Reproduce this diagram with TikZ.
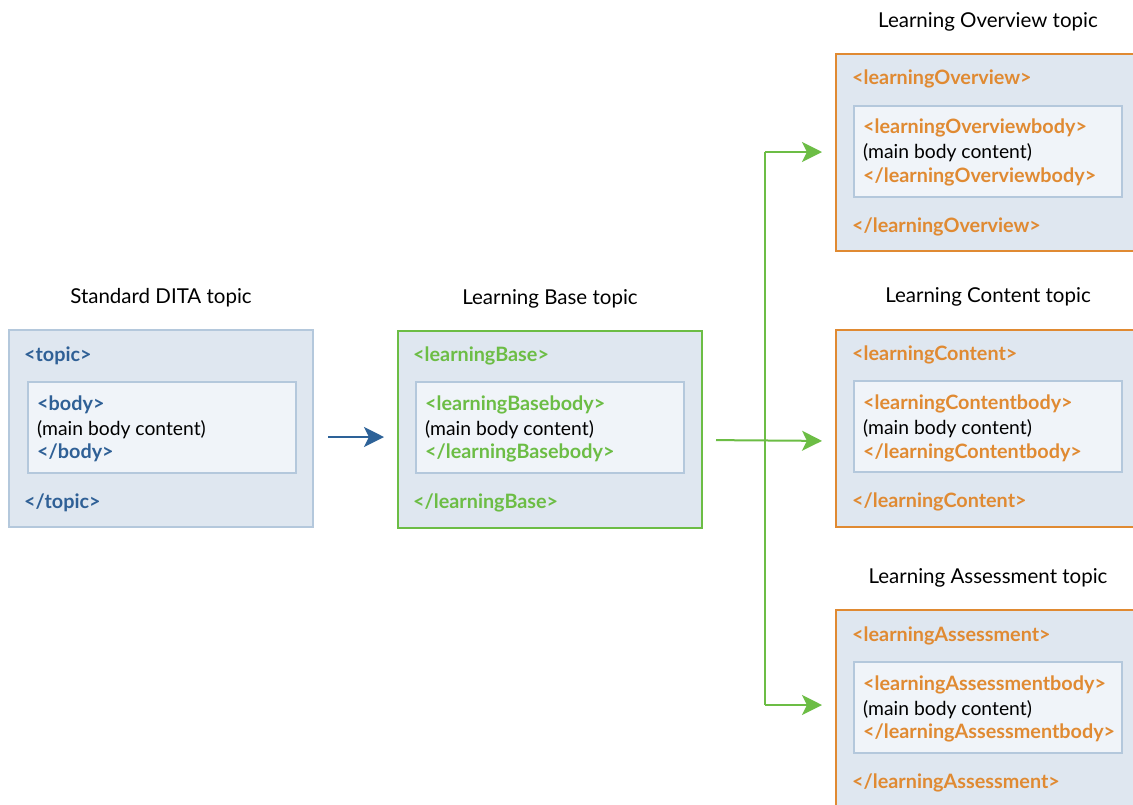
\documentclass[tikz,border=0pt]{standalone}
\usepackage{fontspec}
\setmainfont{Lato}
\usetikzlibrary{arrows.meta}
\definecolor{tagblue}{HTML}{2F6096}
\definecolor{taggreen}{HTML}{6CBD45}
\definecolor{tagorange}{HTML}{E08A32}
\definecolor{boxfill}{HTML}{DFE7F0}
\definecolor{boxline}{HTML}{B4C8DC}
\definecolor{innerfill}{HTML}{F0F4F9}
\definecolor{arrowblue}{HTML}{2D6298}
\begin{document}
\begin{tikzpicture}[x=1pt,y=-1pt,
  outerbox/.style={draw=#1,line width=2pt,fill=boxfill},
  innerbox/.style={draw=boxline,line width=2pt,fill=innerfill},
  tag/.style={anchor=base west,inner sep=0pt,font=\fontsize{19.8}{22}\selectfont\bfseries,text=#1},
  plain/.style={anchor=base west,inner sep=0pt,font=\fontsize{19.3}{22}\selectfont},
  title/.style={anchor=base,inner sep=0pt,font=\fontsize{20.5}{23}\selectfont},
  conn/.style={line width=2pt,draw=#1,-{Stealth[length=20pt,width=20pt,inset=5pt]}},
  link/.style={line width=2pt,draw=#1}]
\useasboundingbox (0,0) rectangle (1133,804);
\clip (0,0) rectangle (1133,804);
\fill[white] (0,0) rectangle (1133,804);

% Standard DITA topic
\node[title] (t1) at (161,303) {Standard DITA topic};
\draw[outerbox=boxline] (9,330) rectangle (313,527);
\coordinate (std) at (313,437);
\draw[innerbox] (28,382) rectangle (296,473);
\node[tag=tagblue] (s1) at (24,361) {<topic>};
\node[tag=tagblue] (s2) at (37,410) {<body>};
\node[plain] (s3) at (37,435) {(main body content)};
\node[tag=tagblue] (s4) at (37,458) {</body>};
\node[tag=tagblue] (s5) at (24,508) {</topic>};

% Learning Base topic
\node[title] (t2) at (550,304) {Learning Base topic};
\draw[outerbox=taggreen] (398,331) rectangle (702,528);
\coordinate (baseW) at (398,437);
\coordinate (baseE) at (702,440);
\draw[innerbox] (416,382) rectangle (684,473);
\node[tag=taggreen] (b1) at (413,361) {<learningBase>};
\node[tag=taggreen] (b2) at (425,410) {<learningBasebody>};
\node[plain] (b3) at (425,435) {(main body content)};
\node[tag=taggreen] (b4) at (425,458) {</learningBasebody>};
\node[tag=taggreen] (b5) at (413,508) {</learningBase>};

% Learning Overview topic
\node[title] (t3) at (988,27) {Learning Overview topic};
\draw[outerbox=tagorange] (836,54) rectangle (1150,251);
\coordinate (ovW) at (836,152);
\draw[innerbox] (854,106) rectangle (1122,197);
\node[tag=tagorange] (o1) at (852,84) {<learningOverview>};
\node[tag=tagorange] (o2) at (863,133) {<learningOverviewbody>};
\node[plain] (o3) at (863,158) {(main body content)};
\node[tag=tagorange] (o4) at (863,182) {</learningOverviewbody>};
\node[tag=tagorange] (o5) at (852,232) {</learningOverview>};

% Learning Content topic
\node[title] (t4) at (988,302) {Learning Content topic};
\draw[outerbox=tagorange] (836,330) rectangle (1150,527);
\coordinate (coW) at (836,441);
\draw[innerbox] (854,381) rectangle (1122,472);
\node[tag=tagorange] (c1) at (852,360) {<learningContent>};
\node[tag=tagorange] (c2) at (863,409) {<learningContentbody>};
\node[plain] (c3) at (863,434) {(main body content)};
\node[tag=tagorange] (c4) at (863,458) {</learningContentbody>};
\node[tag=tagorange] (c5) at (852,507) {</learningContent>};

% Learning Assessment topic
\node[title] (t5) at (988,583) {Learning Assessment topic};
\draw[outerbox=tagorange] (836,610) rectangle (1150,830);
\coordinate (asW) at (836,705);
\draw[innerbox] (854,662) rectangle (1122,753);
\node[tag=tagorange] (a1) at (852,641) {<learningAssessment>};
\node[tag=tagorange] (a2) at (863,690) {<learningAssessmentbody>};
\node[plain] (a3) at (863,715) {(main body content)};
\node[tag=tagorange] (a4) at (863,738) {</learningAssessmentbody>};
\node[tag=tagorange] (a5) at (852,788) {</learningAssessment>};

% connectors
\draw[conn=arrowblue, shorten <=15pt, shorten >=14pt] (std) -- (baseW);
\coordinate (jtop) at (765,152);
\coordinate (jbot) at (765,705);
\draw[link=taggreen] (jtop) -- (jbot);
\draw[conn=taggreen, shorten <=14pt, shorten >=14pt] (baseE) -- (coW);
\draw[conn=taggreen, shorten >=14pt] (jtop) -- (ovW);
\draw[conn=taggreen, shorten >=14pt] (jbot) -- (asW);
\end{tikzpicture}
\end{document}
